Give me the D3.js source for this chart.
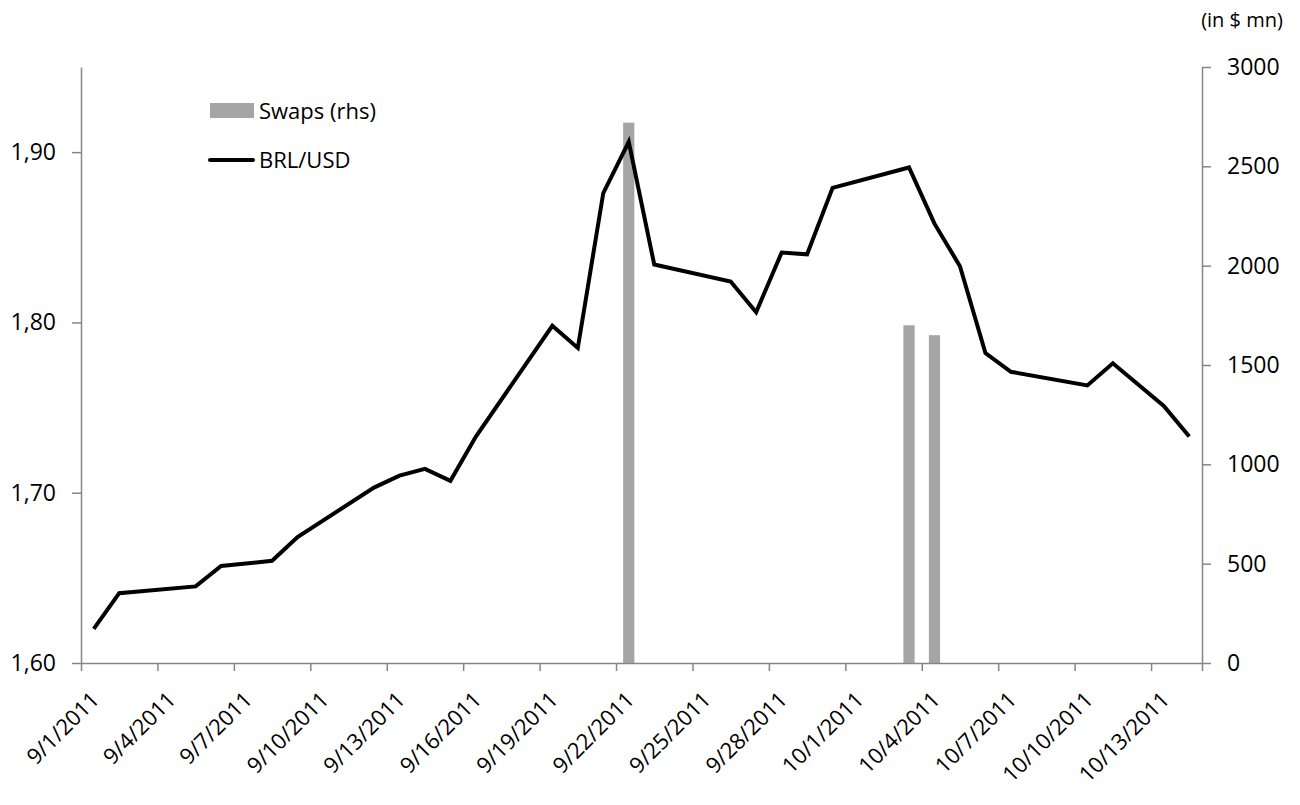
<!DOCTYPE html>
<html>
<head>
<meta charset="utf-8">
<script src="https://cdn.jsdelivr.net/npm/d3@7"></script>
<style>
  body { margin: 0; background: #fff; }
  text { font-family: "Open Sans", sans-serif; fill: #000; }
</style>
</head>
<body>
<div id="chart"></div>
<script>
// data
const fxDates = ["2011-09-01","2011-09-02","2011-09-05","2011-09-06","2011-09-08","2011-09-09",
                 "2011-09-12","2011-09-13","2011-09-14","2011-09-15","2011-09-16","2011-09-19",
                 "2011-09-20","2011-09-21","2011-09-22","2011-09-23","2011-09-26","2011-09-27",
                 "2011-09-28","2011-09-29","2011-09-30","2011-10-03","2011-10-04","2011-10-05",
                 "2011-10-06","2011-10-07","2011-10-10","2011-10-11","2011-10-13","2011-10-14"];
const fxValues = [1.620, 1.641, 1.645, 1.657, 1.660, 1.674,
                  1.703, 1.710, 1.714, 1.707, 1.733, 1.798,
                  1.785, 1.876, 1.906, 1.834, 1.824, 1.806,
                  1.841, 1.840, 1.879, 1.891, 1.858, 1.833,
                  1.782, 1.771, 1.763, 1.776, 1.751, 1.733];

const swapDates = ["2011-09-22","2011-10-03","2011-10-04"];
const swapValues = [2720, 1700, 1650];

const tickLabels = ["9/1/2011","9/4/2011","9/7/2011","9/10/2011","9/13/2011","9/16/2011",
                    "9/19/2011","9/22/2011","9/25/2011","9/28/2011","10/1/2011","10/4/2011",
                    "10/7/2011","10/10/2011","10/13/2011"];
const leftTicks = [1.60, 1.70, 1.80, 1.90];
const rightTicks = [0, 500, 1000, 1500, 2000, 2500, 3000];

// layout
const width = 1300;
const height = 805;
const plot = {left: 81, right: 1202, top: 67, bottom: 663};
const axisColor = `#868686`;
const barColor = `#a5a5a5`;
const tickFont = `23px`;

// every calendar day of the axis (Excel date axis)
const days = d3.timeDay.range(new Date(2011, 8, 1), new Date(2011, 9, 15));
const fmtKey = d3.timeFormat(`%Y-%m-%d`);

const xScale = d3.scaleBand()
                .domain(days.map(fmtKey))
                .range([plot.left, plot.right]);
const xIndex = d3.scaleLinear()
                .domain([0, days.length])
                .range([plot.left, plot.right]);
const yLeft = d3.scaleLinear()
                .domain([1.60, 1.95])
                .range([plot.bottom, plot.top]);
const yRight = d3.scaleLinear()
                .domain([0, 3000])
                .range([plot.bottom, plot.top]);

const fx = fxDates.map((d, i) => ({date: d, value: fxValues[i]}));
const swaps = swapDates.map((d, i) => ({date: d, value: swapValues[i]}));

const svg = d3.select(`#chart`)
            .append(`svg`)
              .attr(`width`, width)
              .attr(`height`, height);

const styleAxis = g => {
    g.select(`.domain`).attr(`stroke`, axisColor).attr(`stroke-width`, 1.5);
    g.selectAll(`.tick line`).attr(`stroke`, axisColor).attr(`stroke-width`, 1.5);
    g.selectAll(`.tick text`).style(`font-size`, tickFont).style(`font-family`, `"Open Sans", sans-serif`).attr(`fill`, `#000`);
};

// bars (rhs)
const bw = xScale.bandwidth() * 0.44;
svg.append(`g`)
  .selectAll(`rect`)
  .data(swaps)
  .join(`rect`)
    .attr(`x`, d => xScale(d.date) + xScale.bandwidth()/2 - bw/2)
    .attr(`y`, d => yRight(d.value))
    .attr(`width`, bw)
    .attr(`height`, d => yRight(0) - yRight(d.value))
    .attr(`fill`, barColor);

// left axis
svg.append(`g`)
    .attr(`transform`, `translate(${plot.left},0)`)
    .call(d3.axisLeft(yLeft)
        .tickValues(leftTicks)
        .tickSize(9)
        .tickSizeOuter(0)
        .tickPadding(16)
        .tickFormat(d => d3.format(`.2f`)(d).replace(`.`, `,`)))
    .call(styleAxis);

// right axis
svg.append(`g`)
    .attr(`transform`, `translate(${plot.right},0)`)
    .call(d3.axisRight(yRight)
        .tickValues(rightTicks)
        .tickSize(9)
        .tickSizeOuter(0)
        .tickPadding(16)
        .tickFormat(d3.format(`d`)))
    .call(styleAxis);

// bottom axis: ticks on day boundaries every 3 days
const bTicks = d3.range(0, days.length, 3).concat([days.length]);
svg.append(`g`)
    .attr(`transform`, `translate(0,${plot.bottom})`)
    .call(d3.axisBottom(xIndex)
        .tickValues(bTicks)
        .tickSize(8)
        .tickSizeOuter(0)
        .tickFormat(``))
    .call(styleAxis);

// date labels
svg.append(`g`)
  .selectAll(`text`)
  .data(tickLabels)
  .join(`text`)
    .attr(`transform`, (d, i) => {
        const cx = xScale(fmtKey(days[i*3])) + xScale.bandwidth()/2;
        return `translate(${cx + 7},${plot.bottom + 38}) rotate(-45)`;
    })
    .attr(`text-anchor`, `end`)
    .style(`font-size`, `22px`)
    .text(d => d);

// BRL/USD line
const line = d3.line()
    .x(d => xScale(d.date) + xScale.bandwidth()/2)
    .y(d => yLeft(d.value));

svg.append(`path`)
    .datum(fx)
    .attr(`d`, line)
    .attr(`fill`, `none`)
    .attr(`stroke`, `#000`)
    .attr(`stroke-width`, 4)
    .attr(`stroke-linejoin`, `miter`);

// legend
const legend = svg.append(`g`);
legend.append(`rect`)
    .attr(`x`, 210).attr(`y`, 103)
    .attr(`width`, 44).attr(`height`, 15)
    .attr(`fill`, barColor);
legend.append(`text`)
    .attr(`x`, 259).attr(`y`, 119)
    .style(`font-size`, `22px`)
    .text(`Swaps (rhs)`);
legend.append(`line`)
    .attr(`x1`, 210).attr(`x2`, 253)
    .attr(`y1`, 160).attr(`y2`, 160)
    .attr(`stroke`, `#000`)
    .attr(`stroke-width`, 4)
    .attr(`stroke-linecap`, `round`);
legend.append(`text`)
    .attr(`x`, 259).attr(`y`, 168)
    .style(`font-size`, `22px`)
    .text(`BRL/USD`);

// unit note
svg.append(`text`)
    .attr(`x`, 1242).attr(`y`, 27)
    .attr(`text-anchor`, `middle`)
    .style(`font-size`, `20px`)
    .text(`(in $ mn)`);
</script>
</body>
</html>
